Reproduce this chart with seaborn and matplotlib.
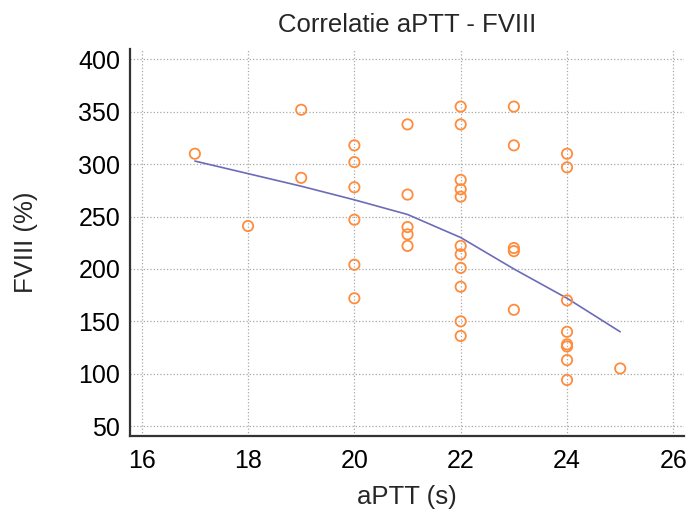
import matplotlib
matplotlib.use('Agg')
import matplotlib.pyplot as plt
import seaborn as sns
import pandas as pd
from matplotlib.ticker import MultipleLocator

# aPTT (s) waarden per punt
aptt = [17,
        18,
        19, 19,
        20, 20, 20, 20, 20, 20,
        21, 21, 21, 21, 21,
        22, 22, 22, 22, 22, 22, 22, 22, 22, 22, 22,
        23, 23, 23, 23, 23,
        24, 24, 24, 24, 24, 24, 24, 24,
        25]

# FVIII (%) waarden per punt
fviii = [310,
         241,
         352, 287,
         318, 302, 278, 247, 204, 172,
         338, 271, 240, 233, 222,
         355, 338, 285, 276, 269, 222, 214, 201, 183, 150, 136,
         355, 318, 220, 217, 161,
         310, 297, 170, 140, 128, 126, 113, 94,
         105]

# gladde trendlijn
trend_x = [17, 18, 19, 20, 21, 22, 23, 24, 25]
trend_y = [303, 291, 279, 266, 252, 230, 200, 172, 140]

df = pd.DataFrame({'aptt': aptt, 'fviii': fviii})
df_trend = pd.DataFrame({'aptt': trend_x, 'fviii': trend_y})

sns.set_style('white')
plt.rcParams['font.family'] = ['Liberation Sans', 'DejaVu Sans']

fig = plt.figure(figsize=(6.89, 5.18), dpi=100)
ax = fig.add_axes([130 / 689, 82 / 518, 554 / 689, 387 / 518])

sns.lineplot(x='aptt', y='fviii', data=df_trend, color='#6b6bb8',
             linewidth=1.2, ax=ax, zorder=3)
sns.scatterplot(x='aptt', y='fviii', data=df, ax=ax, s=55,
                facecolor='none', edgecolor='#ff8c3c', linewidth=1.3,
                zorder=4)

ax.set_xlim(15.78, 26.2)
ax.set_ylim(40.5, 410)
ax.set_xticks([16, 18, 20, 22, 24, 26])
ax.set_yticks([50, 100, 150, 200, 250, 300, 350, 400])
ax.xaxis.set_minor_locator(MultipleLocator(1))

ax.grid(True, which='major', linestyle=':', color='#a8a8a8', linewidth=0.9)
ax.tick_params(axis='both', which='major', direction='in', width=1.5,
               color='#333333', labelsize=18, labelcolor='black')
ax.tick_params(axis='y', which='major', length=8.6, pad=7)
ax.tick_params(axis='x', which='major', length=6.8, pad=9)
ax.tick_params(axis='x', which='minor', direction='in', length=3.5,
               width=1.2, color='#333333')

for side in ['left', 'bottom']:
    ax.spines[side].set_color('#333333')
    ax.spines[side].set_linewidth(1.6)
sns.despine(ax=ax)

ax.set_title('Correlatie aPTT - FVIII', fontsize=18.5, pad=12)
ax.set_xlabel('aPTT (s)', fontsize=18.5)
ax.set_ylabel('FVIII (%)', fontsize=18.5)
ax.xaxis.set_label_coords(0.5, -0.127)
ax.yaxis.set_label_coords(-0.166, 0.5)

fig.savefig('out.png', dpi=100)
